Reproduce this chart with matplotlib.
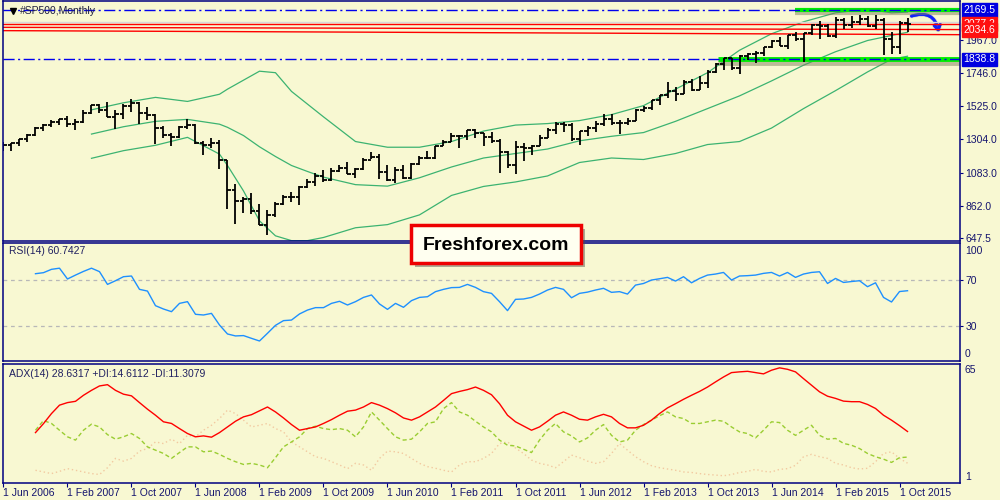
import numpy as np
import matplotlib
matplotlib.use('Agg')
import matplotlib.pyplot as plt
import matplotlib.patheffects as pe
from matplotlib.patches import Rectangle, FancyArrowPatch

plt.rcParams['font.family'] = ['Liberation Sans', 'DejaVu Sans']

# monthly bars, Jun 2006 .. Nov 2015
opens = [1270, 1270, 1277, 1304, 1336, 1378, 1401,
         1418, 1438, 1406, 1421, 1482, 1531, 1503, 1455, 1474, 1527, 1549, 1481,
         1468, 1379, 1331, 1323, 1386, 1400, 1280, 1267, 1283, 1166, 969, 896,
         903, 826, 735, 798, 873, 919, 919, 987, 1021, 1057, 1036, 1096,
         1115, 1074, 1104, 1169, 1187, 1089, 1031, 1102, 1049, 1141, 1183, 1181,
         1258, 1286, 1327, 1326, 1364, 1345, 1321, 1292, 1219, 1131, 1253, 1247,
         1258, 1312, 1366, 1408, 1398, 1310, 1362, 1379, 1407, 1441, 1412, 1416,
         1426, 1498, 1515, 1569, 1598, 1631, 1606, 1686, 1633, 1682, 1757, 1806,
         1848, 1783, 1859, 1872, 1884, 1924, 1960, 1931, 2003, 1972, 2018, 2068,
         2059, 1995, 2105, 2068, 2086, 2107, 2063, 2104, 1972, 1920, 2079]
highs = [1284, 1283, 1306, 1340, 1389, 1407, 1431,
         1441, 1461, 1438, 1499, 1535, 1540, 1556, 1503, 1539, 1576, 1552, 1524,
         1471, 1396, 1344, 1397, 1440, 1405, 1292, 1314, 1303, 1167, 1007, 919,
         944, 876, 832, 888, 931, 956, 996, 1040, 1080, 1102, 1113, 1130,
         1150, 1112, 1181, 1220, 1205, 1131, 1120, 1130, 1149, 1196, 1227, 1263,
         1303, 1344, 1333, 1364, 1371, 1346, 1356, 1307, 1230, 1293, 1278, 1270,
         1334, 1378, 1419, 1422, 1415, 1363, 1392, 1426, 1475, 1471, 1434, 1448,
         1510, 1530, 1570, 1598, 1688, 1654, 1698, 1710, 1730, 1765, 1813, 1849,
         1851, 1867, 1884, 1897, 1924, 1968, 1991, 2005, 2019, 2018, 2076, 2093,
         2072, 2120, 2118, 2126, 2135, 2130, 2133, 2113, 2021, 2094, 2116]
lows = [1224, 1225, 1260, 1290, 1327, 1360, 1385,
        1403, 1389, 1364, 1416, 1476, 1484, 1452, 1371, 1439, 1490, 1407, 1435,
        1271, 1317, 1257, 1314, 1373, 1272, 1200, 1248, 1107, 840, 741, 815,
        805, 735, 667, 784, 866, 889, 869, 979, 991, 1020, 1029, 1086,
        1071, 1045, 1102, 1171, 1040, 1028, 1011, 1040, 1040, 1132, 1173, 1174,
        1257, 1290, 1249, 1303, 1311, 1258, 1283, 1077, 1114, 1075, 1159, 1202,
        1258, 1312, 1340, 1357, 1292, 1267, 1326, 1355, 1397, 1403, 1343, 1399,
        1426, 1485, 1502, 1536, 1581, 1560, 1605, 1627, 1633, 1646, 1746, 1768,
        1770, 1738, 1834, 1815, 1859, 1916, 1930, 1905, 1964, 1821, 2001, 1973,
        1988, 1981, 2040, 2048, 2067, 2056, 2044, 1867, 1872, 1872, 2019]
closes = [1270, 1277, 1304, 1336, 1378, 1401, 1418,
          1438, 1406, 1421, 1482, 1531, 1503, 1455, 1474, 1527, 1549, 1481, 1468,
          1379, 1331, 1323, 1386, 1400, 1280, 1267, 1283, 1166, 969, 896, 903,
          826, 735, 798, 873, 919, 919, 987, 1021, 1057, 1036, 1096, 1115,
          1074, 1104, 1169, 1187, 1089, 1031, 1102, 1049, 1141, 1183, 1181, 1258,
          1286, 1327, 1326, 1364, 1345, 1321, 1292, 1219, 1131, 1253, 1247, 1258,
          1312, 1366, 1408, 1398, 1310, 1362, 1379, 1407, 1441, 1412, 1416, 1426,
          1498, 1515, 1569, 1598, 1631, 1606, 1686, 1633, 1682, 1757, 1806, 1848,
          1783, 1859, 1872, 1884, 1924, 1960, 1931, 2003, 1972, 2018, 2068, 2059,
          1995, 2105, 2068, 2086, 2107, 2063, 2104, 1972, 1920, 2079, 2077]

date_labels = ['1 Jun 2006', '1 Feb 2007', '1 Oct 2007', '1 Jun 2008', '1 Feb 2009',
               '1 Oct 2009', '1 Jun 2010', '1 Feb 2011', '1 Oct 2011', '1 Jun 2012',
               '1 Feb 2013', '1 Oct 2013', '1 Jun 2014', '1 Feb 2015', '1 Oct 2015']

# bollinger bands (20, 2): bar index -> price
bb_idx = [11, 15, 19, 23, 27, 28, 30, 32, 34, 36, 38, 40, 44, 48, 52, 56,
          60, 64, 68, 72, 76, 80, 84, 88, 92, 96, 100, 104, 108, 111, 113]
bb_upper = [1502, 1549, 1585, 1558, 1606, 1640, 1700, 1760, 1750, 1625, 1540, 1455, 1290,
            1252, 1252, 1290, 1360, 1400, 1410, 1430, 1470, 1530, 1640, 1750, 1900,
            2010, 2090, 2150, 2175, 2150, 2155]
bb_mid = [1340, 1389, 1425, 1438, 1406, 1385, 1330, 1255, 1190, 1130, 1090, 1052, 1002,
          992, 1048, 1120, 1180, 1210, 1240, 1295, 1325, 1350, 1425, 1510, 1595,
          1695, 1800, 1890, 1965, 1999, 2020]
bb_lower = [1178, 1229, 1265, 1318, 1206, 1130, 960, 760, 660, 628, 628, 649, 714,
            735, 800, 930, 990, 1020, 1060, 1150, 1180, 1170, 1210, 1270, 1290,
            1380, 1510, 1630, 1755, 1840, 1860]

# indicators, starting at bar index 4 (Oct 2006)
rsi = [75.5, 76.4, 79.3, 80.3, 70.9, 74.3, 77.5, 80.3, 77.3, 66.2,
       69.4, 72.9, 73.5, 61.9, 60.4, 47.7, 44.8, 42.5, 49.7, 51.2,
       40.2, 39.6, 41.0, 30.9, 23.1, 21.4, 21.7, 19.3, 17.0, 23.7,
       30.6, 34.7, 35.2, 40.5, 43.9, 46.0, 46.0, 49.7, 51.5, 48.3,
       51.2, 54.9, 57.0, 49.2, 44.5, 49.7, 46.3, 52.1, 54.9, 55.5,
       59.9, 61.9, 63.4, 63.6, 66.2, 63.6, 59.9, 58.4, 51.2, 43.4,
       53.2, 53.5, 54.9, 57.8, 61.3, 63.6, 61.9, 54.6, 58.4, 59.5,
       61.3, 62.8, 59.3, 59.9, 57.8, 65.6, 67.0, 70.0, 71.1, 72.3,
       69.1, 72.9, 67.6, 71.4, 74.3, 75.2, 76.6, 70.0, 73.5, 73.8,
       74.3, 75.8, 76.6, 73.5, 76.6, 72.3, 75.2, 76.6, 77.2, 67.0,
       71.4, 67.9, 68.7, 69.4, 64.2, 67.6, 54.9, 50.9, 60.0, 60.7]
adx = [28.0, 32.9, 38.4, 43.0, 44.4, 45.1, 48.4, 51.1, 53.5, 54.2,
       51.1, 49.0, 48.1, 44.4, 40.8, 37.5, 33.9, 33.0, 30.2, 27.5,
       25.7, 26.2, 25.5, 28.0, 31.1, 34.2, 36.6, 37.8, 39.9, 42.0,
       39.3, 36.0, 32.4, 29.3, 30.2, 31.1, 33.0, 35.1, 37.5, 39.7,
       40.3, 42.0, 44.4, 43.0, 41.1, 38.8, 36.0, 34.8, 36.6, 39.3,
       42.0, 45.6, 49.3, 50.5, 51.5, 52.9, 51.1, 48.7, 43.8, 37.5,
       33.9, 31.6, 29.3, 31.1, 34.2, 37.5, 39.3, 37.5, 35.3, 34.8,
       36.6, 38.0, 36.6, 33.0, 30.6, 30.6, 32.0, 34.8, 38.4, 41.5,
       43.8, 46.2, 48.4, 50.5, 52.9, 55.7, 58.4, 60.8, 61.2, 61.5,
       60.8, 60.1, 62.1, 63.4, 62.6, 61.2, 57.5, 53.9, 50.3, 47.9,
       46.7, 45.2, 44.9, 44.9, 43.4, 41.2, 37.5, 34.8, 31.8, 28.6]
plus_di = [29.3, 34.6, 33.0, 29.3, 25.7, 23.9, 29.3, 32.6, 31.1, 26.9,
           24.4, 25.7, 27.5, 24.8, 20.2, 18.4, 16.6, 13.9, 17.1, 20.2,
           20.2, 17.5, 17.9, 16.1, 13.9, 12.1, 10.6, 11.2, 10.3, 8.8,
           14.3, 20.2, 22.9, 25.7, 30.2, 31.5, 30.2, 29.6, 30.2, 29.3,
           25.7, 31.1, 39.3, 34.8, 30.2, 25.7, 23.9, 24.4, 28.4, 33.0,
           33.9, 41.1, 44.4, 39.3, 37.5, 34.2, 31.1, 28.4, 23.9, 21.1,
           20.7, 18.9, 17.1, 23.9, 29.3, 33.0, 28.4, 26.2, 22.9, 25.1,
           29.3, 32.4, 26.5, 22.9, 23.9, 29.3, 32.4, 34.8, 37.2, 39.3,
           36.6, 35.7, 33.0, 33.0, 33.9, 34.8, 34.2, 31.1, 28.4, 27.5,
           25.1, 29.3, 33.9, 33.5, 29.3, 26.5, 29.3, 32.0, 26.5, 24.4,
           24.8, 22.1, 21.1, 19.3, 16.6, 14.8, 13.5, 11.7, 14.3, 14.6]
minus_di = [7.4, 6.5, 5.6, 6.8, 8.3, 7.4, 6.5, 5.6, 5.1, 8.8,
            13.9, 12.4, 13.9, 17.9, 19.3, 22.9, 22.0, 24.4, 22.0, 26.5,
            25.7, 29.3, 32.0, 35.7, 40.3, 38.4, 34.8, 31.1, 32.0, 33.0,
            30.2, 28.4, 22.9, 20.2, 17.5, 14.8, 13.9, 12.1, 10.3, 8.3,
            11.2, 10.3, 7.4, 13.9, 17.9, 17.5, 16.6, 13.9, 11.2, 9.4,
            8.5, 7.4, 6.5, 10.3, 12.1, 12.1, 13.9, 16.6, 22.0, 22.9,
            19.6, 16.6, 13.0, 11.2, 10.3, 8.8, 12.1, 15.7, 14.3, 12.4,
            11.2, 12.1, 16.6, 22.0, 18.4, 14.8, 12.1, 9.9, 8.8, 8.1,
            7.4, 6.5, 6.2, 5.6, 5.1, 4.8, 4.4, 5.1, 6.2, 6.8,
            7.9, 6.8, 6.5, 7.9, 8.3, 10.1, 14.8, 16.1, 14.8, 13.9,
            11.2, 10.3, 8.8, 8.1, 8.5, 12.1, 16.6, 17.5, 13.9, 11.3]

price_ticks = [647.5, 862.0, 1083.0, 1304.0, 1525.0, 1746.0, 1967.0]

W, H = 1000, 500
BG = '#f8f8d2'
NAVY = '#000080'
TXT = '#14146e'


def box(x0, y0, x1, y1):
    return [x0 / W, 1 - y1 / H, (x1 - x0) / W, (y1 - y0) / H]


fig = plt.figure(figsize=(10, 5), dpi=100, facecolor=BG)
ax = fig.add_axes(box(3, 1, 960, 241))
ax_rsi = fig.add_axes(box(3, 243, 960, 361))
ax_adx = fig.add_axes(box(3, 364, 960, 483))

xmin, xmax = -0.06, 119.56
for a in (ax, ax_rsi, ax_adx):
    a.set_facecolor(BG)
    a.set_xlim(xmin, xmax)
    for s in a.spines.values():
        s.set_color(NAVY)
        s.set_linewidth(1.1)
    a.yaxis.tick_right()
    a.tick_params(axis='y', colors=NAVY, labelcolor=TXT, labelsize=7.5,
                  length=2.5, width=0.8, pad=1.5)
    a.tick_params(axis='x', bottom=False, labelbottom=False)

# ---- price panel
idx = np.arange(len(closes))
ax.set_ylim(625.5, 2229)
ax.set_yticks(price_ticks)
ax.set_yticklabels(['%.1f' % v for v in price_ticks])

for band in (bb_upper, bb_mid, bb_lower):
    ax.plot(bb_idx, band, color='#3cb371', lw=0.9)

shadow = [pe.SimpleLineShadow(offset=(0, -2.5), shadow_color='#808060', alpha=0.5), pe.Normal()]
ax.plot([89.3, xmax], [1838.8, 1838.8], color='#00ee00', lw=3.5, solid_capstyle='butt',
        path_effects=shadow)
ax.plot([98.9, xmax], [2169.5, 2169.5], color='#00ee00', lw=3.0, solid_capstyle='butt',
        path_effects=shadow)

ax.axhline(2090, color='#d8d8d8', lw=1)
ax.plot([xmin, xmax], [2075, 2075], color='#ff0000', lw=1)
ax.plot([xmin, xmax], [2053, 2038], color='#ff0000', lw=1)
ax.plot([xmin, xmax], [2031, 2004], color='#ff0000', lw=1)

dashdot = (0, (8, 2.5, 1.5, 2.5))
ax.axhline(2169.5, color='#0000ee', lw=1, ls=dashdot)
ax.axhline(1838.8, color='#0000ee', lw=1, ls=dashdot)

ax.vlines(idx, lows, highs, color='black', lw=1.3)
ax.hlines(opens, idx - 0.38, idx, color='black', lw=1.3)
ax.hlines(closes, idx, idx + 0.38, color='black', lw=1.3)

# hand-drawn forecast arrow
arrow = FancyArrowPatch((113.5, 2128), (116.9, 2020), connectionstyle='arc3,rad=-0.55',
                        arrowstyle='->,head_length=3.5,head_width=2.2', mutation_scale=1,
                        color='#1020ff', lw=2.0, shrinkA=0, shrinkB=0,
                        path_effects=[pe.withStroke(linewidth=3.2, foreground='#9090a8', alpha=0.35),
                                      pe.Normal()])
ax.add_patch(arrow)


def price_tag(y, text, fc):
    ax.annotate(text, xy=(1.0, y), xycoords=('axes fraction', 'data'), xytext=(2.5, 0),
                textcoords='offset points', ha='left', va='center', color='white',
                fontsize=7.5, annotation_clip=False,
                bbox=dict(boxstyle='square,pad=0.18', fc=fc, ec=fc))


price_tag(2169.5, '2169.5', '#0000e0')
price_tag(1838.8, '1838.8', '#0000e0')
price_tag(2077.2, '2077.2', '#ff1010')
price_tag(2034.6, '2034.6', '#ff1010')

ax.plot([0.01], [0.957], marker='v', color='black', ms=4, transform=ax.transAxes, clip_on=False)
ax.text(0.018, 0.957, '#SP500,Monthly', transform=ax.transAxes, fontsize=7.5,
        color='#202040', va='center')

# ---- RSI panel
rsi_idx = np.arange(4, 4 + len(rsi))
ax_rsi.set_ylim(-0.4, 102.2)
ax_rsi.axhline(70, color='#b8b8b8', lw=0.9, ls=(0, (3, 3)))
ax_rsi.axhline(30, color='#b8b8b8', lw=0.9, ls=(0, (3, 3)))
ax_rsi.plot(rsi_idx, rsi, color='#1e90ff', lw=1)
ax_rsi.set_yticks([70, 30])
ax_rsi.set_yticklabels(['70', '30'])
ax_rsi.text(1.005, 100, '100', transform=ax_rsi.get_yaxis_transform(), fontsize=7.5,
            color=TXT, va='top', ha='left')
ax_rsi.text(1.005, 1, '0', transform=ax_rsi.get_yaxis_transform(), fontsize=7.5,
            color=TXT, va='bottom', ha='left')
ax_rsi.text(0.006, 0.93, 'RSI(14) 60.7427', transform=ax_rsi.transAxes, fontsize=7.5,
            color='#202060', va='center')

# ---- ADX panel
ax_adx.set_ylim(0.45, 65.5)
ax_adx.plot(rsi_idx, minus_di, color='#f2c9a0', lw=1, ls=(0, (1, 2)))
ax_adx.plot(rsi_idx, plus_di, color='#9acd32', lw=1, ls=(0, (3, 2)))
ax_adx.plot(rsi_idx, adx, color='#ff0000', lw=1)
ax_adx.set_yticks([])
ax_adx.text(1.005, 65, '65', transform=ax_adx.get_yaxis_transform(), fontsize=7.5,
            color=TXT, va='top', ha='left')
ax_adx.text(1.005, 1, '1', transform=ax_adx.get_yaxis_transform(), fontsize=7.5,
            color=TXT, va='bottom', ha='left')
ax_adx.text(0.006, 0.92, 'ADX(14) 28.6317 +DI:14.6112 -DI:11.3079', transform=ax_adx.transAxes,
            fontsize=7.5, color='#202060', va='center')

ax_adx.tick_params(axis='x', bottom=True, labelbottom=True, colors=NAVY, labelcolor=TXT,
                   labelsize=7.5, length=3, width=0.8, pad=0.5)
ax_adx.set_xticks(np.arange(0, 8 * len(date_labels), 8))
ax_adx.set_xticklabels(date_labels, ha='left')

# ---- watermark
fig.add_artist(Rectangle((411 / W, 1 - 263 / H), 170 / W, 38 / H, transform=fig.transFigure,
                         fc='#fffff0', ec='#ee0000', lw=2.5,
                         path_effects=[pe.withSimplePatchShadow(offset=(3, -3), alpha=0.45)]))
fig.text(496 / W, 1 - 245 / H, 'Freshforex.com', fontsize=14, fontweight='bold',
         color='black', ha='center', va='center')

fig.savefig('out.png', dpi=100, facecolor=BG)
